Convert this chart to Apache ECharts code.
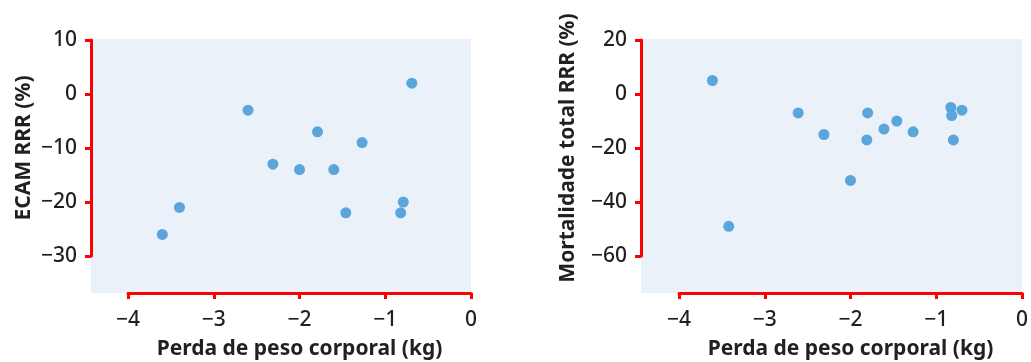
<!DOCTYPE html>
<html>
<head>
<meta charset="utf-8">
<script src="https://cdn.jsdelivr.net/npm/echarts@6/dist/echarts.min.js"></script>
<style>
html,body{margin:0;padding:0;background:#fff;}
#main{width:1031px;height:362px;}
</style>
</head>
<body>
<div id="main"></div>
<script>
// painel esquerdo: ECAM
var ecamX = [-3.60, -3.40, -2.60, -2.31, -2.00, -1.79, -1.60, -1.46, -1.27, -0.82, -0.79, -0.69];
var ecamY = [-26, -21, -3, -13, -14, -7, -14, -22, -9, -22, -20, 2];
// painel direito: mortalidade total
var mortX = [-3.61, -3.42, -2.61, -2.31, -2.00, -1.80, -1.81, -1.61, -1.46, -1.27, -0.83, -0.82, -0.80, -0.70];
var mortY = [5, -49, -7, -15, -32, -7, -17, -13, -10, -14, -5, -8, -17, -6];

var xTitle = "Perda de peso corporal (kg)";
var ecamTitle = "ECAM RRR (%)";
var mortTitle = "Mortalidade total RRR (%)";

var red = "#ff0000";
var txt = "#231f20";
var dot = "#5aa5db";
var bg = "#eaf1f9";
var font = "Noto Sans";

function pairs(xs, ys){
	var out = [];
	for(var i=0;i<xs.length;i++){
		out.push([xs[i], ys[i]]);
	}
	return out;
}

function minus(v){
	return String(v).replace("-", "\u2212");
}

function bgAxis(idx){
	return {gridIndex: idx, show: false, min: 0, max: 1, type: "value"};
}

function dataX(idx){
	return {
		gridIndex: idx, type: "value", min: -4, max: 0, interval: 1,
		position: "bottom", offset: 37, z: 5,
		name: xTitle, nameLocation: "middle", nameGap: 46,
		nameTextStyle: {fontFamily: font, fontSize: 21, fontWeight: "bold", color: txt},
		axisLine: {onZero: false, lineStyle: {color: red, width: 3}},
		axisTick: {length: 6, lineStyle: {color: red, width: 3}},
		axisLabel: {fontFamily: font, fontSize: 21, fontWeight: 500, color: txt, margin: 17, formatter: minus},
		splitLine: {show: false}
	};
}

function dataY(idx, min, max, step, off, title, gap){
	return {
		gridIndex: idx, type: "value", min: min, max: max, interval: step,
		position: "left", offset: off, z: 5,
		name: title, nameLocation: "middle", nameGap: gap,
		nameTextStyle: {fontFamily: font, fontSize: 21, fontWeight: "bold", color: txt},
		axisLine: {onZero: false, lineStyle: {color: red, width: 3}},
		axisTick: {length: 6, lineStyle: {color: red, width: 3}},
		axisLabel: {fontFamily: font, fontSize: 21, fontWeight: 500, color: txt, margin: 14, formatter: minus},
		splitLine: {show: false}
	};
}

var chart = echarts.init(document.getElementById("main"));
var option = {
	backgroundColor: "#fff",
	animation: false,
	grid: [
		{left: 91, top: 39, width: 380, height: 254, show: true, backgroundColor: bg, borderWidth: 0, z: 0, outerBoundsMode: "none"},
		{left: 128, top: 40, width: 343, height: 216, outerBoundsMode: "none"},
		{left: 641, top: 39, width: 381, height: 254, show: true, backgroundColor: bg, borderWidth: 0, z: 0, outerBoundsMode: "none"},
		{left: 679, top: 40, width: 343, height: 216, outerBoundsMode: "none"}
	],
	xAxis: [bgAxis(0), dataX(1), bgAxis(2), dataX(3)],
	yAxis: [
		bgAxis(0),
		dataY(1, -30, 10, 10, 37, ecamTitle, 56),
		bgAxis(2),
		dataY(3, -60, 20, 20, 38, mortTitle, 62)
	],
	series: [
		{type: "scatter", xAxisIndex: 1, yAxisIndex: 1, symbolSize: 11, itemStyle: {color: dot, opacity: 1}, data: pairs(ecamX, ecamY), z: 10},
		{type: "scatter", xAxisIndex: 3, yAxisIndex: 3, symbolSize: 11, itemStyle: {color: dot, opacity: 1}, data: pairs(mortX, mortY), z: 10}
	]
};
chart.setOption(option);
</script>
</body>
</html>
